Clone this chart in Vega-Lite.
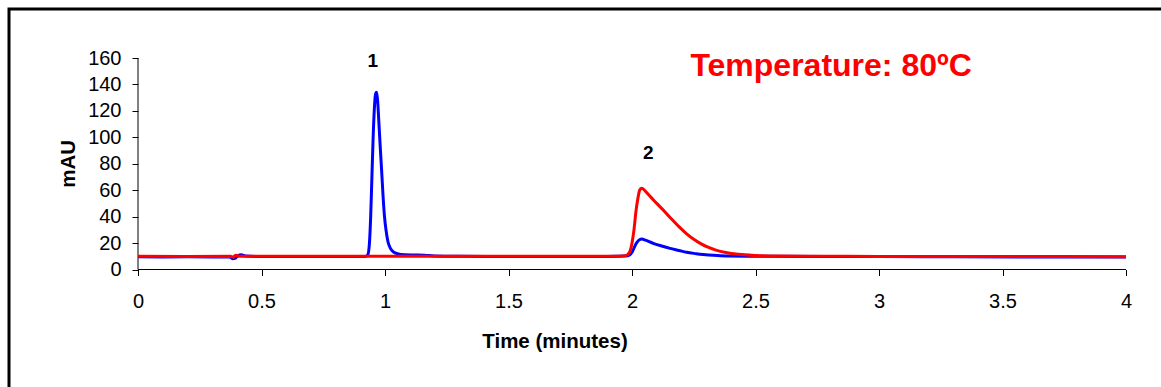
{
  "$schema": "https://vega.github.io/schema/vega-lite/v6.json",
  "width": 1156,
  "height": 382,
  "autosize": {"type": "none"},
  "padding": {"left": 9, "top": 9, "right": -4, "bottom": -4},
  "background": "white",
  "config": {
    "view": {"stroke": "black", "strokeWidth": 3},
    "font": "Liberation Sans",
    "axis": {"grid": false, "domain": false, "tickColor": "black", "tickSize": 6, "labelColor": "black", "titleColor": "black", "labelFont": "Liberation Sans", "titleFont": "Liberation Sans", "labelFontSize": 20, "titleFontSize": 20.5, "titleFontWeight": "bold", "labelFlush": false, "labelOverlap": false, "labelBound": false}
  },
  "datasets": {
    "traces": [
      {"series": "Trace A", "t": 0, "mAU": 9.6},
      {"series": "Trace A", "t": 0.1, "mAU": 9.5},
      {"series": "Trace A", "t": 0.2, "mAU": 9.6},
      {"series": "Trace A", "t": 0.3, "mAU": 9.5},
      {"series": "Trace A", "t": 0.37, "mAU": 9.6},
      {"series": "Trace A", "t": 0.383, "mAU": 8.2},
      {"series": "Trace A", "t": 0.393, "mAU": 8.4},
      {"series": "Trace A", "t": 0.405, "mAU": 10.6},
      {"series": "Trace A", "t": 0.418, "mAU": 11.2},
      {"series": "Trace A", "t": 0.435, "mAU": 10.3},
      {"series": "Trace A", "t": 0.5, "mAU": 9.8},
      {"series": "Trace A", "t": 0.6, "mAU": 9.8},
      {"series": "Trace A", "t": 0.7, "mAU": 9.9},
      {"series": "Trace A", "t": 0.8, "mAU": 9.9},
      {"series": "Trace A", "t": 0.9, "mAU": 9.9},
      {"series": "Trace A", "t": 0.92, "mAU": 9.9},
      {"series": "Trace A", "t": 0.93, "mAU": 11},
      {"series": "Trace A", "t": 0.937, "mAU": 20},
      {"series": "Trace A", "t": 0.942, "mAU": 40},
      {"series": "Trace A", "t": 0.947, "mAU": 70},
      {"series": "Trace A", "t": 0.952, "mAU": 100},
      {"series": "Trace A", "t": 0.957, "mAU": 122},
      {"series": "Trace A", "t": 0.962, "mAU": 133},
      {"series": "Trace A", "t": 0.966, "mAU": 134},
      {"series": "Trace A", "t": 0.97, "mAU": 128},
      {"series": "Trace A", "t": 0.975, "mAU": 112},
      {"series": "Trace A", "t": 0.98, "mAU": 95},
      {"series": "Trace A", "t": 0.986, "mAU": 76},
      {"series": "Trace A", "t": 0.992, "mAU": 56},
      {"series": "Trace A", "t": 0.998, "mAU": 40},
      {"series": "Trace A", "t": 1.004, "mAU": 30},
      {"series": "Trace A", "t": 1.012, "mAU": 21},
      {"series": "Trace A", "t": 1.022, "mAU": 16},
      {"series": "Trace A", "t": 1.035, "mAU": 13.2},
      {"series": "Trace A", "t": 1.05, "mAU": 12},
      {"series": "Trace A", "t": 1.08, "mAU": 11.2},
      {"series": "Trace A", "t": 1.12, "mAU": 11},
      {"series": "Trace A", "t": 1.16, "mAU": 10.8},
      {"series": "Trace A", "t": 1.2, "mAU": 10.2},
      {"series": "Trace A", "t": 1.3, "mAU": 10},
      {"series": "Trace A", "t": 1.5, "mAU": 9.9},
      {"series": "Trace A", "t": 1.7, "mAU": 9.9},
      {"series": "Trace A", "t": 1.9, "mAU": 9.9},
      {"series": "Trace A", "t": 1.975, "mAU": 10.2},
      {"series": "Trace A", "t": 1.99, "mAU": 11},
      {"series": "Trace A", "t": 2.0, "mAU": 13},
      {"series": "Trace A", "t": 2.01, "mAU": 17},
      {"series": "Trace A", "t": 2.02, "mAU": 20.5},
      {"series": "Trace A", "t": 2.03, "mAU": 22.5},
      {"series": "Trace A", "t": 2.04, "mAU": 23},
      {"series": "Trace A", "t": 2.055, "mAU": 22.2},
      {"series": "Trace A", "t": 2.086, "mAU": 19.8},
      {"series": "Trace A", "t": 2.12, "mAU": 17.8},
      {"series": "Trace A", "t": 2.154, "mAU": 16},
      {"series": "Trace A", "t": 2.19, "mAU": 14.4},
      {"series": "Trace A", "t": 2.221, "mAU": 13},
      {"series": "Trace A", "t": 2.26, "mAU": 12},
      {"series": "Trace A", "t": 2.288, "mAU": 11.4},
      {"series": "Trace A", "t": 2.33, "mAU": 10.7},
      {"series": "Trace A", "t": 2.38, "mAU": 10.2},
      {"series": "Trace A", "t": 2.5, "mAU": 10},
      {"series": "Trace A", "t": 2.8, "mAU": 9.8},
      {"series": "Trace A", "t": 3.0, "mAU": 9.8},
      {"series": "Trace A", "t": 3.3, "mAU": 9.6},
      {"series": "Trace A", "t": 3.6, "mAU": 9.5},
      {"series": "Trace A", "t": 4.0, "mAU": 9.5},
      {"series": "Trace B", "t": 0, "mAU": 10},
      {"series": "Trace B", "t": 0.2, "mAU": 9.9},
      {"series": "Trace B", "t": 0.375, "mAU": 10},
      {"series": "Trace B", "t": 0.385, "mAU": 9.2},
      {"series": "Trace B", "t": 0.395, "mAU": 10.8},
      {"series": "Trace B", "t": 0.41, "mAU": 10},
      {"series": "Trace B", "t": 0.6, "mAU": 10},
      {"series": "Trace B", "t": 1.0, "mAU": 10},
      {"series": "Trace B", "t": 1.5, "mAU": 10},
      {"series": "Trace B", "t": 1.9, "mAU": 10},
      {"series": "Trace B", "t": 1.95, "mAU": 10.1},
      {"series": "Trace B", "t": 1.975, "mAU": 10.5},
      {"series": "Trace B", "t": 1.99, "mAU": 13},
      {"series": "Trace B", "t": 2.0, "mAU": 20},
      {"series": "Trace B", "t": 2.008, "mAU": 30},
      {"series": "Trace B", "t": 2.016, "mAU": 44},
      {"series": "Trace B", "t": 2.024, "mAU": 54},
      {"series": "Trace B", "t": 2.031, "mAU": 60},
      {"series": "Trace B", "t": 2.038, "mAU": 61.5},
      {"series": "Trace B", "t": 2.046, "mAU": 60.8},
      {"series": "Trace B", "t": 2.06, "mAU": 58},
      {"series": "Trace B", "t": 2.08, "mAU": 54},
      {"series": "Trace B", "t": 2.1, "mAU": 50},
      {"series": "Trace B", "t": 2.13, "mAU": 44.3},
      {"series": "Trace B", "t": 2.16, "mAU": 38.2},
      {"series": "Trace B", "t": 2.19, "mAU": 32.4},
      {"series": "Trace B", "t": 2.22, "mAU": 27.2},
      {"series": "Trace B", "t": 2.25, "mAU": 22.9},
      {"series": "Trace B", "t": 2.28, "mAU": 19.4},
      {"series": "Trace B", "t": 2.31, "mAU": 16.7},
      {"series": "Trace B", "t": 2.34, "mAU": 14.7},
      {"series": "Trace B", "t": 2.38, "mAU": 12.9},
      {"series": "Trace B", "t": 2.43, "mAU": 11.5},
      {"series": "Trace B", "t": 2.5, "mAU": 10.6},
      {"series": "Trace B", "t": 2.6, "mAU": 10.15},
      {"series": "Trace B", "t": 2.75, "mAU": 10},
      {"series": "Trace B", "t": 3.0, "mAU": 9.9},
      {"series": "Trace B", "t": 3.5, "mAU": 9.8},
      {"series": "Trace B", "t": 4.0, "mAU": 9.7}
    ],
    "axisLines": [
      {"t": 0, "t2": 4, "mAU": 0, "mAU2": 0},
      {"t": 0, "t2": 0, "mAU": 0, "mAU2": 160}
    ],
    "peakLabels": [
      {"t": 0.951, "mAU": 157.9, "label": "1"},
      {"t": 2.066, "mAU": 88.4, "label": "2"}
    ],
    "note": [
      {"t": 2.806, "mAU": 154.1, "label": "Temperature: 80ºC"}
    ]
  },
  "encoding": {
    "x": {
      "field": "t", "type": "quantitative",
      "scale": {"domain": [-0.52227, 4.15789], "nice": false, "zero": false},
      "axis": {"title": "Time (minutes)", "values": [0, 0.5, 1, 1.5, 2, 2.5, 3, 3.5, 4], "format": "~g", "offset": -121.5, "labelPadding": 16, "titleX": 545.5, "titleY": 78, "titleBaseline": "alphabetic", "titleAlign": "center", "titleAnchor": null}
    },
    "y": {
      "field": "mAU", "type": "quantitative",
      "scale": {"domain": [-91.915, 197.069], "nice": false, "zero": false},
      "axis": {"title": "mAU", "values": [0, 20, 40, 60, 80, 100, 120, 140, 160], "offset": -129, "labelPadding": 11, "titleX": -64, "titleY": 154.3, "titleBaseline": "alphabetic", "titleAlign": "center", "titleAngle": 270}
    }
  },
  "layer": [
    {
      "data": {"name": "axisLines"},
      "mark": {"type": "rule", "color": "black", "strokeWidth": 1},
      "encoding": {"x2": {"field": "t2"}, "y2": {"field": "mAU2"}}
    },
    {
      "data": {"name": "traces"},
      "transform": [{"filter": "datum.series === 'Trace A'"}],
      "mark": {"type": "line", "color": "#0000FF", "strokeWidth": 3, "interpolate": "monotone"}
    },
    {
      "data": {"name": "traces"},
      "transform": [{"filter": "datum.series === 'Trace B'"}],
      "mark": {"type": "line", "color": "#FF0000", "strokeWidth": 3, "interpolate": "monotone"}
    },
    {
      "data": {"name": "peakLabels"},
      "mark": {"type": "text", "font": "Liberation Sans", "fontSize": 19, "fontWeight": "bold", "color": "black", "baseline": "middle", "align": "center"},
      "encoding": {"text": {"field": "label"}}
    },
    {
      "data": {"name": "note"},
      "mark": {"type": "text", "font": "Liberation Sans", "fontSize": 32, "fontWeight": "bold", "color": "#FF0000", "baseline": "middle", "align": "center"},
      "encoding": {"text": {"field": "label"}}
    }
  ]
}
